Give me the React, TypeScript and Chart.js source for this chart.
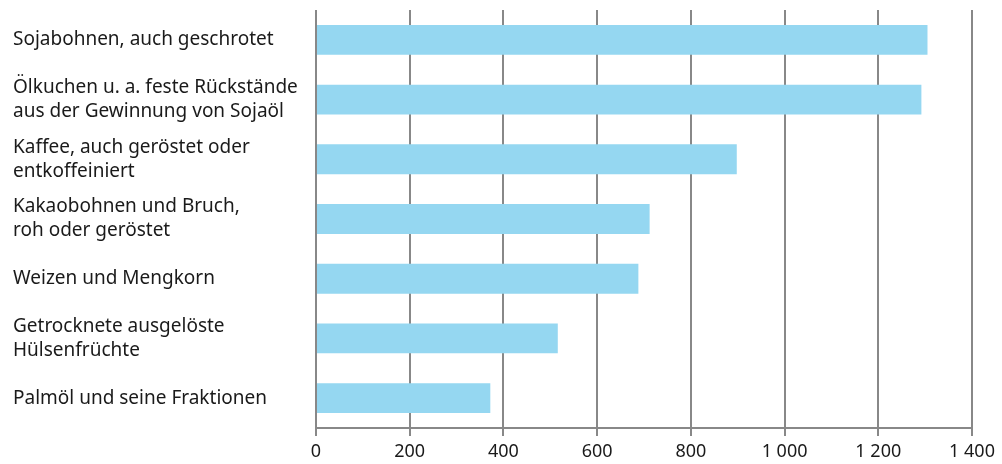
import React, { useEffect, useRef } from "react";
import { Chart, registerables } from "chart.js";

Chart.register(...registerables);

const categories: string[][] = [
  ["Sojabohnen, auch geschrotet"],
  ["Ölkuchen u. a. feste Rückstände", "aus der Gewinnung von Sojaöl"],
  ["Kaffee, auch geröstet oder", "entkoffeiniert"],
  ["Kakaobohnen und Bruch,", "roh oder geröstet"],
  ["Weizen und Mengkorn"],
  ["Getrocknete ausgelöste", "Hülsenfrüchte"],
  ["Palmöl und seine Fraktionen"],
];
const values: number[] = [1305, 1292, 898, 712, 688, 516, 372];
const xMin = 0;
const xMax = 1400;
const xStep = 200;

const FONT = "'Noto Sans', sans-serif";

export default function App() {
  const ref = useRef<HTMLCanvasElement | null>(null);
  useEffect(() => {
    if (!ref.current) return;
    const chart = new Chart(ref.current, {
      type: "bar",
      data: {
        labels: categories as any,
        datasets: [
          {
            data: values,
            backgroundColor: "#95d7f1",
            borderWidth: 0,
            barPercentage: 0.5,
            categoryPercentage: 1,
          },
        ],
      },
      options: {
        indexAxis: "y",
        animation: false,
        responsive: false,
        maintainAspectRatio: false,
        layout: { padding: { left: 13, right: 30, top: 10, bottom: 0 } },
        plugins: { legend: { display: false }, tooltip: { enabled: false } },
        scales: {
          x: {
            min: xMin,
            max: xMax,
            z: 1,
            ticks: {
              stepSize: xStep,
              color: "#1a1a1a",
              font: { family: FONT, size: 18 },
              padding: 5,
              maxRotation: 0,
              callback: (v: any) => String(v).replace(/\B(?=(\d{3})+(?!\d))/g, " "),
            },
            grid: { color: "#888888", lineWidth: 2, tickLength: 8, drawOnChartArea: true },
            border: { display: true, color: "#888888", width: 2 },
            afterFit: (s: any) => { s.height = 36; },
          },
          y: {
            grid: { display: false },
            border: { display: false },
            ticks: {
              crossAlign: "far",
              color: "#1a1a1a",
              font: { family: FONT, size: 19, lineHeight: 1.26 },
            },
            afterFit: (s: any) => { s.width = 303; s.paddingTop = 0; s.paddingBottom = 0; },
          },
        },
      },
    });
    return () => chart.destroy();
  }, []);
  return (
    <div style={{ position: "fixed", left: 0, top: 0, width: 1002, height: 464, background: "#fff" }}>
      <canvas ref={ref} width={1002} height={464} style={{ width: 1002, height: 464 }} />
    </div>
  );
}
